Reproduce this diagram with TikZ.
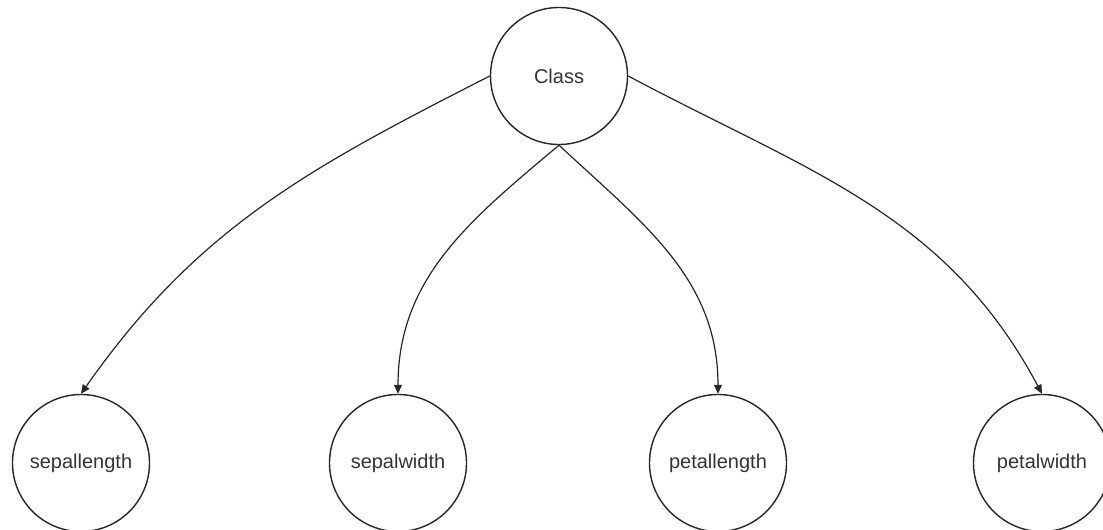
\documentclass[tikz,border=0pt]{standalone}
\usepackage{fontspec}
\setmainfont{Liberation Sans}
\usetikzlibrary{arrows.meta}
\begin{document}
\begin{tikzpicture}[x=1pt,y=-1pt,
  var/.style={circle,draw=black!85,line width=1.4pt,minimum size=137pt,inner sep=0pt,font=\fontsize{20}{23}\selectfont,text=black!80},
  edge/.style={draw=black!85,line width=1.2pt,-{Triangle[length=9pt,width=8pt]}}]
\useasboundingbox (0,0) rectangle (1103,530);
\node[var] (class) at (559,76) {Class};
\node[var] (sl) at (81,463) {sepallength};
\node[var] (sw) at (398,463) {sepalwidth};
\node[var] (pl) at (718,463) {petallength};
\node[var] (pw) at (1042,463) {petalwidth};
\draw[edge] (class.west) to[out=207,in=55] (sl.north);
\draw[edge] (class.south) to[out=220,in=90] (sw.north);
\draw[edge] (class.south) to[out=-43,in=90] (pl.north);
\draw[edge] (class.east) to[out=-28,in=118] (pw.north);
\end{tikzpicture}
\end{document}
